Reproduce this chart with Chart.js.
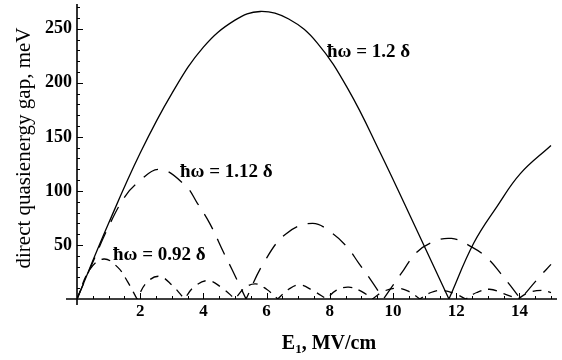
<!DOCTYPE html>
<html>
<head>
<meta charset="utf-8">
<script src="https://cdn.jsdelivr.net/npm/chart.js@4/dist/chart.umd.min.js"></script>
<style>
  html, body { margin: 0; padding: 0; background: #fff; }
  canvas { display: block; }
</style>
</head>
<body>
<canvas id="gapChart" width="562" height="360"></canvas>
<script>
"use strict";

// tick labels
const xTicks = [2, 4, 6, 8, 10, 12, 14];
const yTicks = [50, 100, 150, 200, 250];

// hbar omega = 1.2 delta (solid)
const highX = [0, 1, 2, 3, 4, 5, 5.8, 6.7, 7.6, 8.6, 9.6, 10.7, 11.77, 12.56, 13.3, 14.03, 15];
const highY = [0, 70, 135, 190, 233, 258, 266, 259, 237, 193, 135, 67, 0, 52, 86, 116, 142];

// hbar omega = 1.12 delta (long dashes)
const midX = [0, 0.5, 1, 1.5, 1.9, 2.6, 3.43, 3.8, 4.2, 4.64, 4.91, 5.35, 5.9, 6.6, 7.45, 8.07, 8.55, 8.92, 9.29, 9.7, 10.34, 10.71, 11.2, 11.85, 12.5, 12.98, 13.4, 14.04, 14.56, 15];
const midY = [0, 34, 67, 94, 107, 120, 105, 89, 70, 43, 27, 0, 33, 60, 70, 61, 48, 33, 18, 0, 27, 42, 52, 56, 48, 38, 24, 0, 18, 32];

// hbar omega = 0.92 delta (short dashes)
const lowX = [0, 0.4, 0.85, 1.3, 1.6, 1.9, 2.2, 2.6, 3.0, 3.4, 3.7, 4.15, 4.6, 5.0, 5.3, 5.65, 6.0, 6.35, 6.7, 7.05, 7.45, 7.9, 8.2, 8.6, 9.0, 9.35, 9.7, 10.1, 10.5, 10.85, 11.2, 11.55, 11.95, 12.3, 12.65, 13.05, 13.5, 13.95, 14.3, 14.7, 15];
const lowY = [0, 27, 37, 29, 16, 0, 15, 21, 13, 0, 11, 17, 10, 0, 10, 14, 9, 0, 9, 13, 8, 0, 8, 11, 7, 0, 7, 10, 7, 0, 6, 8, 5, 0, 6, 9, 5, 0, 6, 8, 6];

const serif = "'Liberation Serif', 'Times New Roman', serif";

// zero points are repeated so the spline gets a sharp cusp there (|f| shape)
function toPoints(xs, ys) {
  const pts = [];
  xs.forEach((x, i) => {
    pts.push({ x: x, y: ys[i] });
    if (ys[i] === 0 && i > 0 && i < xs.length - 1) pts.push({ x: x, y: 0 });
  });
  return pts;
}

const decorPlugin = {
  id: "decor",
  afterDraw(chart) {
    const ctx = chart.ctx;
    const xs = chart.scales.x;
    const ys = chart.scales.y;
    const x0 = xs.getPixelForValue(0);
    const y0 = ys.getPixelForValue(0);
    ctx.save();
    ctx.strokeStyle = "#000";
    ctx.lineWidth = 1.6;
    ctx.beginPath();
    ctx.moveTo(66, y0);
    ctx.lineTo(chart.chartArea.right, y0);
    ctx.moveTo(x0, chart.chartArea.top - 1);
    ctx.lineTo(x0, y0 + 6);
    ctx.stroke();

    // tick marks
    ctx.lineWidth = 1;
    ctx.beginPath();
    for (let v = 10; v <= 270; v += 10) {
      const p = Math.round(ys.getPixelForValue(v)) + 0.5;
      const len = v % 50 === 0 ? 6 : 3;
      ctx.moveTo(x0, p);
      ctx.lineTo(x0 + len, p);
    }
    for (let v = 0.5; v <= 15; v += 0.5) {
      const p = Math.round(xs.getPixelForValue(v)) + 0.5;
      const len = v % 2 === 0 ? 6 : 3;
      ctx.moveTo(p, y0);
      ctx.lineTo(p, y0 - len);
    }
    ctx.stroke();

    ctx.fillStyle = "#000";
    // axis titles
    ctx.font = "21px " + serif;
    ctx.textAlign = "center";
    ctx.textBaseline = "alphabetic";
    ctx.save();
    ctx.translate(30, 148);
    ctx.rotate(-Math.PI / 2);
    ctx.fillText("direct quasienergy gap, meV", 0, 0);
    ctx.restore();

    ctx.textAlign = "left";
    const partA = "E";
    const partB = ", MV/cm";
    ctx.font = "bold 20px " + serif;
    const wA = ctx.measureText(partA).width;
    const wB = ctx.measureText(partB).width;
    ctx.font = "bold 13px " + serif;
    const wSub = ctx.measureText("1").width;
    let tx = 329 - (wA + wSub + wB) / 2;
    ctx.font = "bold 20px " + serif;
    ctx.fillText(partA, tx, 349);
    ctx.font = "bold 13px " + serif;
    ctx.fillText("1", tx + wA, 353);
    ctx.font = "bold 20px " + serif;
    ctx.fillText(partB, tx + wA + wSub, 349);

    // curve labels
    ctx.font = "bold 19px " + serif;
    ctx.fillText("\u0127\u03c9 = 1.2 \u03b4", 327, 57);
    ctx.fillText("\u0127\u03c9 = 1.12 \u03b4", 180, 177);
    ctx.fillText("\u0127\u03c9 = 0.92 \u03b4", 113, 260);
    ctx.restore();
  },
};

const lineBase = {
  borderColor: "#000",
  borderWidth: 1.3,
  pointRadius: 0,
  tension: 0.4,
  fill: false,
};

new Chart(document.getElementById("gapChart"), {
  type: "line",
  data: {
    datasets: [
      Object.assign({ data: toPoints(highX, highY) }, lineBase),
      Object.assign({ data: toPoints(midX, midY), borderDash: [17, 11] }, lineBase),
      Object.assign({ data: toPoints(lowX, lowY), borderDash: [9, 7] }, lineBase),
    ],
  },
  options: {
    responsive: false,
    animation: false,
    layout: { padding: { top: 5, right: 5, left: 0, bottom: 0 } },
    plugins: {
      legend: { display: false },
      tooltip: { enabled: false },
    },
    scales: {
      x: {
        type: "linear",
        min: 0,
        max: 15.19,
        grid: { display: false, drawTicks: false },
        border: { display: false },
        afterBuildTicks: (scale) => {
          scale.ticks = xTicks.map((v) => ({ value: v }));
        },
        afterFit: (scale) => {
          scale.height = 61;
          scale.paddingLeft = 0;
          scale.paddingRight = 0;
        },
        ticks: {
          autoSkip: false,
          maxRotation: 0,
          padding: 2,
          color: "#000",
          font: { family: serif, size: 17, weight: "bold" },
        },
      },
      y: {
        min: 0,
        max: 272,
        grid: { display: false, drawTicks: false },
        border: { display: false },
        afterBuildTicks: (scale) => {
          scale.ticks = yTicks.map((v) => ({ value: v }));
        },
        afterFit: (scale) => {
          scale.width = 77;
          scale.paddingTop = 0;
          scale.paddingBottom = 0;
        },
        ticks: {
          padding: 5,
          color: "#000",
          font: { family: serif, size: 18, weight: "bold" },
        },
      },
    },
  },
  plugins: [decorPlugin],
});
</script>
</body>
</html>
